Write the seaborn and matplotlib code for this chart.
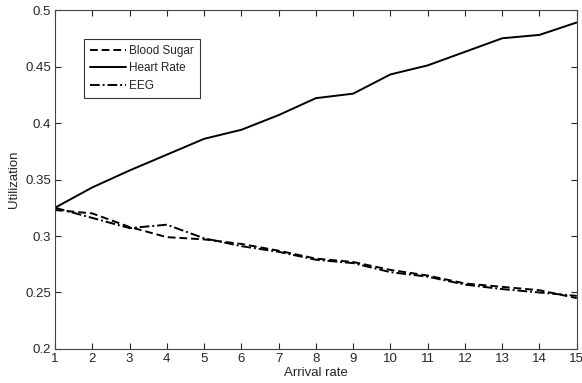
import numpy as np
import pandas as pd
import matplotlib
matplotlib.use('Agg')
import matplotlib.pyplot as plt
import seaborn as sns

arrival_rate = list(range(1, 16))
blood_sugar = [0.323, 0.320, 0.308, 0.299, 0.297, 0.293, 0.287, 0.280,
               0.277, 0.270, 0.265, 0.258, 0.255, 0.252, 0.245]
heart_rate = [0.325, 0.343, 0.358, 0.372, 0.386, 0.394, 0.407, 0.422,
              0.426, 0.443, 0.451, 0.463, 0.475, 0.478, 0.489]
eeg = [0.325, 0.316, 0.307, 0.310, 0.298, 0.291, 0.286, 0.279,
       0.276, 0.268, 0.264, 0.257, 0.253, 0.250, 0.247]
series_names = ["Blood Sugar", "Heart Rate", "EEG"]

df = pd.DataFrame({
    "Arrival rate": arrival_rate * 3,
    "Utilization": blood_sugar + heart_rate + eeg,
    "series": sum([[n] * len(arrival_rate) for n in series_names], []),
})

sns.set_style("ticks")
plt.rcParams['font.family'] = ['Liberation Sans', 'DejaVu Sans']

fig = plt.figure(figsize=(5.82, 3.83), dpi=100)
ax = fig.add_axes([0.0945, 0.0888, 0.8965, 0.885])

dashes = {"Blood Sugar": (4, 2), "Heart Rate": "", "EEG": (5, 1.5, 1, 1.5)}
sns.lineplot(data=df, x="Arrival rate", y="Utilization", hue="series",
             style="series", dashes=dashes,
             palette={n: "black" for n in series_names},
             linewidth=1.4, ax=ax)

ax.set_xlim(1, 15)
ax.set_ylim(0.2, 0.5)
ax.set_xticks(arrival_rate)
ax.set_yticks([0.2, 0.25, 0.3, 0.35, 0.4, 0.45, 0.5])
ax.set_yticklabels(["0.2", "0.25", "0.3", "0.35", "0.4", "0.45", "0.5"])
ax.tick_params(direction="in", top=True, right=True, labelsize=9.5,
               length=4, width=0.8, pad=3)
for s in ax.spines.values():
    s.set_linewidth(0.8)
    s.set_color("#444444")
ax.set_xlabel("Arrival rate", fontsize=9.5, labelpad=1)
ax.set_ylabel("Utilization", fontsize=9.5, labelpad=4)

leg = ax.legend(loc="upper left", bbox_to_anchor=(0.056, 0.914), fontsize=8.5,
                frameon=True, fancybox=False, edgecolor="black",
                handlelength=3.0, borderpad=0.5, labelspacing=0.45,
                handletextpad=0.3, borderaxespad=0)
leg.get_frame().set_linewidth(0.8)

fig.savefig("out.png", dpi=100)
